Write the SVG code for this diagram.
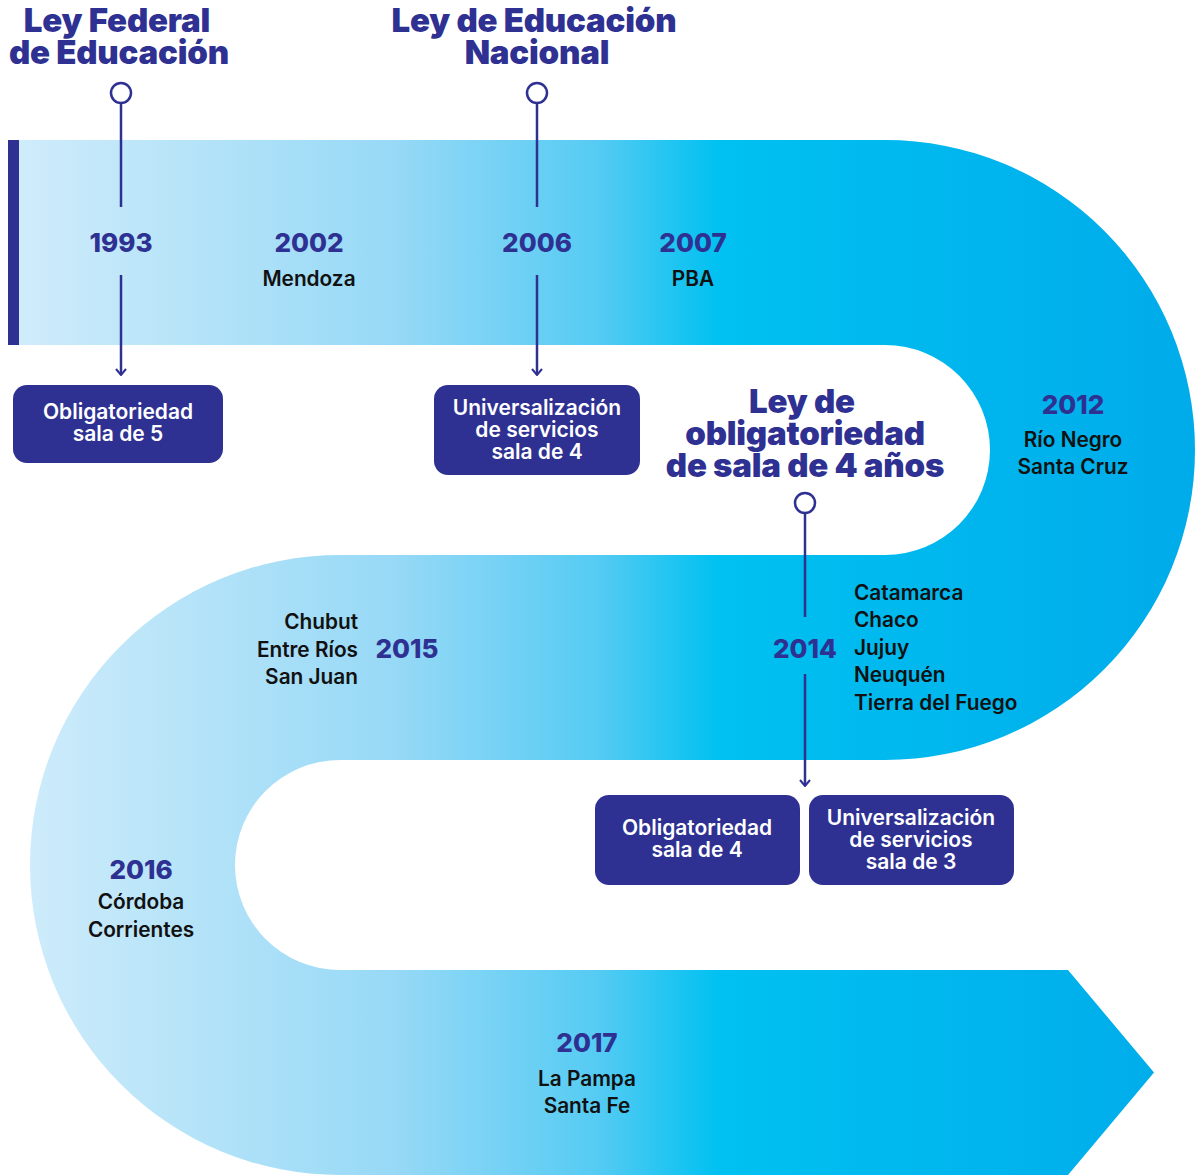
<svg xmlns="http://www.w3.org/2000/svg" width="1197" height="1175" viewBox="0 0 1197 1175">
<defs>
<linearGradient id="band" gradientUnits="userSpaceOnUse" x1="0" y1="0" x2="1197" y2="0">
<stop offset="0" stop-color="#d2edfb"/>
<stop offset="0.33" stop-color="#97d9f6"/>
<stop offset="0.5" stop-color="#55cbf3"/>
<stop offset="0.6" stop-color="#00c1f1"/>
<stop offset="1" stop-color="#00abea"/>
</linearGradient>
<marker id="arr" viewBox="0 0 8 12" refX="7" refY="6" markerWidth="8" markerHeight="12" markerUnits="userSpaceOnUse" orient="auto">
<path d="M1,1 L7,6 L1,11" fill="none" stroke="#2e3192" stroke-width="2"/>
</marker>
<style>
.navy{fill:#2e3192}
.title{font-family:Inter,"Liberation Sans",sans-serif;font-weight:900;font-size:33px;fill:#2e3192;text-anchor:middle;letter-spacing:-0.2px}
.year{font-family:Inter,"Liberation Sans",sans-serif;font-weight:800;font-size:26px;fill:#2e3192;text-anchor:middle}
.reg{font-family:Inter,"Liberation Sans",sans-serif;font-weight:600;font-size:20.8px;fill:#111;text-anchor:middle}
.box{fill:#2e3192}
.bt{font-family:Inter,"Liberation Sans",sans-serif;font-weight:600;font-size:21px;fill:#fff;text-anchor:middle}
.ln{stroke:#2e3192;stroke-width:2.5;fill:none}
.dot{stroke:#2e3192;stroke-width:2.5;fill:#fff}
</style>
</defs>
<g id="band-shape">
<path d="M 8 140 H 885 A 310 310 0 0 1 885 760 H 340 A 105 105 0 0 0 340 970 H 1068 L 1154 1072.5 L 1068 1175 H 340 A 310 310 0 0 1 340 555 H 885 A 105 105 0 0 0 885 345 H 8 Z" fill="url(#band)"/>
<rect x="8" y="140" width="11" height="205" class="navy"/>
</g>
<g id="connectors">
<line x1="121" y1="103" x2="121" y2="207" class="ln"/>
<line x1="121" y1="275" x2="121" y2="375" class="ln" marker-end="url(#arr)"/>
<line x1="537" y1="103" x2="537" y2="207" class="ln"/>
<line x1="537" y1="275" x2="537" y2="375" class="ln" marker-end="url(#arr)"/>
<line x1="805" y1="513" x2="805" y2="617" class="ln"/>
<line x1="805" y1="674" x2="805" y2="786" class="ln" marker-end="url(#arr)"/>
</g>
<g id="ley-federal">
<text class="title" x="117" y="32">Ley Federal</text>
<text class="title" x="119" y="64">de Educación</text>
<circle cx="121" cy="93" r="10" class="dot"/>
</g>
<g id="ley-nacional">
<text class="title" x="534" y="32">Ley de Educación</text>
<text class="title" x="537" y="64">Nacional</text>
<circle cx="537" cy="93" r="10" class="dot"/>
</g>
<g id="ley-sala4">
<text class="title" x="802" y="413">Ley de</text>
<text class="title" x="805" y="445">obligatoriedad</text>
<text class="title" x="805" y="477">de sala de 4 años</text>
<circle cx="805" cy="503" r="10" class="dot"/>
</g>
<g id="y1993"><text class="year" x="121" y="252">1993</text></g>
<g id="y2002"><text class="year" x="309" y="252">2002</text><text class="reg" x="309" y="286">Mendoza</text></g>
<g id="y2006"><text class="year" x="537" y="252">2006</text></g>
<g id="y2007"><text class="year" x="693" y="252">2007</text><text class="reg" x="693" y="286">PBA</text></g>
<g id="y2012"><text class="year" x="1073" y="414">2012</text><text class="reg" x="1073" y="447">Río Negro</text><text class="reg" x="1073" y="474">Santa Cruz</text></g>
<g id="y2014"><text class="year" x="805" y="658">2014</text>
<text class="reg" style="text-anchor:start" x="854" y="600">Catamarca</text>
<text class="reg" style="text-anchor:start" x="854" y="627">Chaco</text>
<text class="reg" style="text-anchor:start" x="854" y="655">Jujuy</text>
<text class="reg" style="text-anchor:start" x="854" y="682">Neuquén</text>
<text class="reg" style="text-anchor:start" x="854" y="710">Tierra del Fuego</text>
</g>
<g id="y2015"><text class="year" x="407" y="658">2015</text>
<text class="reg" style="text-anchor:end" x="358" y="629">Chubut</text>
<text class="reg" style="text-anchor:end" x="358" y="657">Entre Ríos</text>
<text class="reg" style="text-anchor:end" x="358" y="684">San Juan</text>
</g>
<g id="y2016"><text class="year" x="141" y="879">2016</text><text class="reg" x="141" y="909">Córdoba</text><text class="reg" x="141" y="937">Corrientes</text></g>
<g id="y2017"><text class="year" x="587" y="1052">2017</text><text class="reg" x="587" y="1086">La Pampa</text><text class="reg" x="587" y="1113">Santa Fe</text></g>
<g id="box-sala5"><rect x="13" y="385" width="210" height="78" rx="14" class="box"/><text class="bt" x="118" y="419">Obligatoriedad</text><text class="bt" x="118" y="441">sala de 5</text></g>
<g id="box-univ4"><rect x="434" y="385" width="206" height="90" rx="14" class="box"/><text class="bt" x="537" y="415">Universalización</text><text class="bt" x="537" y="437">de servicios</text><text class="bt" x="537" y="459">sala de 4</text></g>
<g id="box-sala4"><rect x="595" y="795" width="205" height="90" rx="14" class="box"/><text class="bt" x="697" y="835">Obligatoriedad</text><text class="bt" x="697" y="857">sala de 4</text></g>
<g id="box-univ3"><rect x="809" y="795" width="205" height="90" rx="14" class="box"/><text class="bt" x="911" y="825">Universalización</text><text class="bt" x="911" y="847">de servicios</text><text class="bt" x="911" y="869">sala de 3</text></g>
</svg>
